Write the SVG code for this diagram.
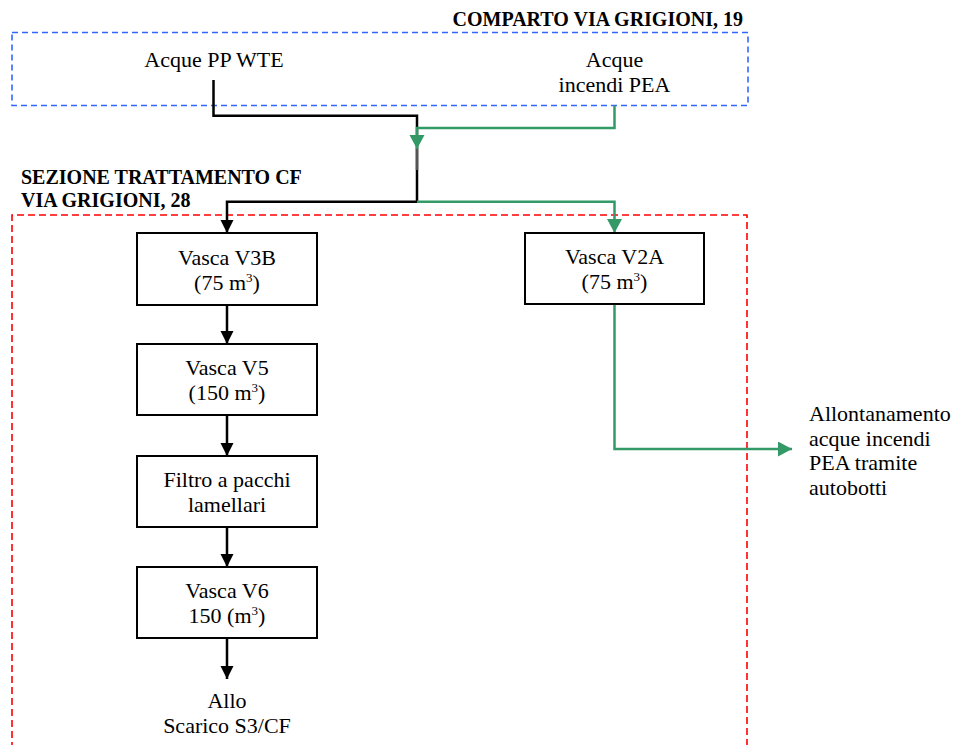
<svg xmlns="http://www.w3.org/2000/svg" width="955" height="745" viewBox="0 0 955 745">
  <style>
    text { font-family: "Liberation Serif", "Times New Roman", serif; fill: #000; }
    .t { font-size: 22px; text-anchor: middle; }
    .tl { font-size: 22px; }
    .h { font-size: 20px; font-weight: bold; }
    .sup { font-size: 13px; }
    .box { fill: #fff; stroke: #000; stroke-width: 2; }
    .zone-blue { fill: none; stroke: #3366ff; stroke-width: 1.6; stroke-dasharray: 6 4; }
    .zone-red { fill: none; stroke: #ff0000; stroke-width: 1.6; stroke-dasharray: 7 4; }
    .blk { fill: none; stroke: #000; stroke-width: 2.5; }
    .grn { fill: none; stroke: #339966; stroke-width: 2.5; }
  </style>
  <defs>
    <marker id="ab" markerWidth="14" markerHeight="14" refX="13" refY="6.5" orient="auto" markerUnits="userSpaceOnUse">
      <path d="M0,0 L13,6.5 L0,13 Z" fill="#000"/>
    </marker>
    <marker id="ag" markerWidth="16" markerHeight="16" refX="14" refY="7.5" orient="auto" markerUnits="userSpaceOnUse">
      <path d="M0,0 L14,7.5 L0,15 Z" fill="#339966"/>
    </marker>
  </defs>

  <rect width="955" height="745" fill="#fff"/>

  <!-- Zones -->
  <g id="zone-comparto">
    <rect class="zone-blue" x="12" y="32.5" width="736" height="73"/>
    <text class="h" x="743" y="26" text-anchor="end">COMPARTO VIA GRIGIONI, 19</text>
  </g>
  <g id="zone-sezione">
    <path class="zone-red" d="M12,760 L12,215 L747,215 L747,760"/>
    <text class="h" x="21" y="184">SEZIONE TRATTAMENTO CF</text>
    <text class="h" x="21" y="207">VIA GRIGIONI, 28</text>
  </g>

  <!-- Connectors -->
  <g id="connectors">
    <path class="blk" d="M213.5,80 L213.5,115.7 L417,115.7 L417,170"/>
    <path d="M417,148 L417,170" stroke="#555" stroke-width="2.5" fill="none"/>
    <path class="blk" d="M417,170 L417,201.7 L227,201.7 L227,233" marker-end="url(#ab)"/>
    <path class="grn" d="M614.5,105.5 L614.5,128 L417,128 L417,149" marker-end="url(#ag)"/>
    <path class="grn" d="M417,201.7 L614.5,201.7 L614.5,233" marker-end="url(#ag)"/>
    <path class="blk" d="M227,305 L227,344" marker-end="url(#ab)"/>
    <path class="blk" d="M227,415 L227,456" marker-end="url(#ab)"/>
    <path class="blk" d="M227,527 L227,567" marker-end="url(#ab)"/>
    <path class="blk" d="M227,638 L227,679" marker-end="url(#ab)"/>
    <path class="grn" d="M614.5,304 L614.5,449 L792,449" marker-end="url(#ag)"/>
  </g>

  <!-- Sources -->
  <g id="acque-pp-wte">
    <text class="t" x="214" y="67">Acque PP WTE</text>
  </g>
  <g id="acque-incendi-pea">
    <text class="t" x="614.5" y="67">Acque</text>
    <text class="t" x="614.5" y="92">incendi PEA</text>
  </g>

  <!-- Process units -->
  <g id="vasca-v3b">
    <rect class="box" x="137" y="233" width="180" height="72"/>
    <text class="t" x="227" y="265">Vasca V3B</text>
    <text class="t" x="227" y="290">(75 m<tspan class="sup" dy="-8">3</tspan><tspan dy="8">)</tspan></text>
  </g>
  <g id="vasca-v5">
    <rect class="box" x="137" y="344" width="180" height="71"/>
    <text class="t" x="227" y="375">Vasca V5</text>
    <text class="t" x="227" y="400">(150 m<tspan class="sup" dy="-8">3</tspan><tspan dy="8">)</tspan></text>
  </g>
  <g id="filtro">
    <rect class="box" x="137" y="456" width="180" height="71"/>
    <text class="t" x="227" y="487">Filtro a pacchi</text>
    <text class="t" x="227" y="512">lamellari</text>
  </g>
  <g id="vasca-v6">
    <rect class="box" x="137" y="567" width="180" height="71"/>
    <text class="t" x="227" y="598">Vasca V6</text>
    <text class="t" x="227" y="623">150 (m<tspan class="sup" dy="-8">3</tspan><tspan dy="8">)</tspan></text>
  </g>
  <g id="vasca-v2a">
    <rect class="box" x="525" y="233" width="179" height="71"/>
    <text class="t" x="614.5" y="264">Vasca V2A</text>
    <text class="t" x="614.5" y="289">(75 m<tspan class="sup" dy="-8">3</tspan><tspan dy="8">)</tspan></text>
  </g>

  <!-- Outlets -->
  <g id="scarico">
    <text class="t" x="227" y="708">Allo</text>
    <text class="t" x="227" y="733">Scarico S3/CF</text>
  </g>
  <g id="allontanamento">
    <text class="tl" x="809" y="421">Allontanamento</text>
    <text class="tl" x="809" y="445.5">acque incendi</text>
    <text class="tl" x="809" y="470">PEA tramite</text>
    <text class="tl" x="809" y="494.5">autobotti</text>
  </g>
</svg>
